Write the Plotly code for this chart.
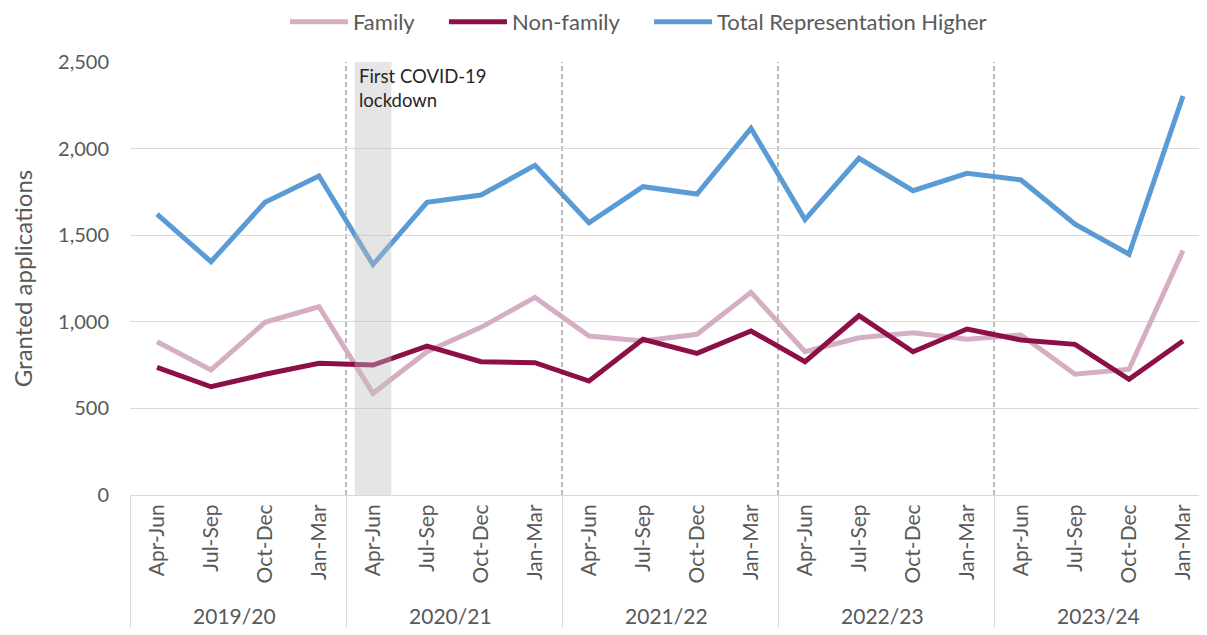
import plotly.graph_objects as go

years = ["2019/20", "2020/21", "2021/22", "2022/23", "2023/24"]
quarters = ["Apr-Jun", "Jul-Sep", "Oct-Dec", "Jan-Mar"]

family = [885, 722, 997, 1087, 587, 827, 968, 1141, 918, 889, 928, 1170,
          827, 908, 937, 899, 924, 697, 726, 1411]
non_family = [737, 625, 697, 760, 750, 860, 770, 764, 658, 899, 818, 947,
              770, 1035, 827, 958, 895, 870, 668, 889]
total = [1622, 1347, 1690, 1842, 1330, 1690, 1732, 1903, 1572, 1780, 1738, 2117,
         1590, 1944, 1757, 1857, 1819, 1563, 1390, 2304]

x_year = [y for y in years for _ in quarters]
x_q = [q for _ in years for q in quarters]

FONT = "Lato"
GREY = "#595959"

fig = go.Figure()
series = [("Family", family, "#D5AEC4", "legend"),
          ("Non-family", non_family, "#8C0F47", "legend2"),
          ("Total Representation Higher", total, "#5B9BD5", "legend3")]
for name, vals, col, lg in series:
    fig.add_trace(go.Scatter(x=[x_year, x_q], y=vals, mode="lines", name=name,
                             line=dict(color=col, width=5), legend=lg))

# year boundary dashed lines
for b in [3.5, 7.5, 11.5, 15.5]:
    fig.add_shape(type="line", xref="x", yref="y", x0=b, x1=b, y0=0, y1=2500,
                  line=dict(color="#A6A6A6", width=1.5, dash="5px,3px"), layer="below")

# lockdown band
fig.add_shape(type="rect", xref="x", yref="y", x0=4 - 0.34, x1=4 + 0.34, y0=-12, y1=2500,
              fillcolor="rgba(190,190,190,0.4)", line=dict(width=0), layer="above")

fig.add_annotation(xref="x", yref="paper", x=3.70, y=0.998, xanchor="left", yanchor="top",
                   text="First COVID-19<br>lockdown", showarrow=False, align="left",
                   font=dict(family=FONT, size=18.5, color="#262626"))

def leg(xpos):
    return dict(orientation="h", x=xpos, xanchor="left", xref="paper",
                yref="container", y=0.978, yanchor="middle", bgcolor="rgba(0,0,0,0)",
                font=dict(family=FONT, size=22, color=GREY), itemwidth=58)

fig.update_layout(
    width=1207, height=635,
    margin=dict(l=122, r=5, t=54, b=148, autoexpand=False),
    paper_bgcolor="white", plot_bgcolor="white",
    font=dict(family=FONT, color=GREY),
    showlegend=True,
    legend=leg(0.1435), legend2=leg(0.2907), legend3=leg(0.4806),
    xaxis=dict(type="multicategory", tickangle=-90, showgrid=False,
               range=[-0.5, 19.5],
               showline=True, linecolor="#D9D9D9", linewidth=1,
               showdividers=True, dividercolor="#D9D9D9", dividerwidth=1,
               tickfont=dict(family=FONT, size=21, color=GREY), ticks=""),
    yaxis=dict(range=[0, 2500], dtick=500, tickformat=",", showgrid=True,
               gridcolor="#D9D9D9", gridwidth=1, zeroline=False, showline=False,
               ticks="", ticklen=0, ticklabelstandoff=20,
               tickfont=dict(family=FONT, size=20, color=GREY),
               title=dict(text="Granted applications", standoff=26,
                          font=dict(family=FONT, size=24, color=GREY))),
)

fig.write_html("out.html")
